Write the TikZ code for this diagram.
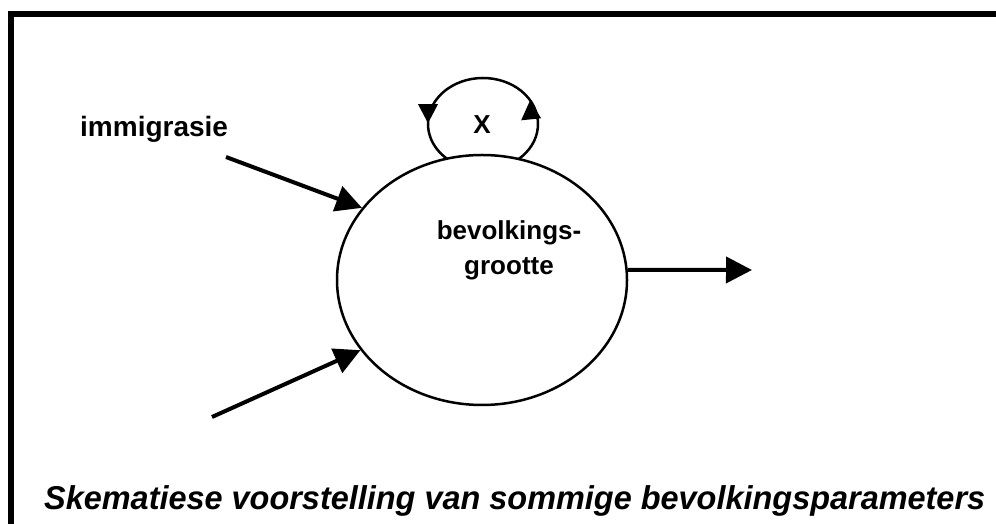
\documentclass[tikz,border=0pt]{standalone}
\usepackage{fontspec}
\usepackage{graphicx}
\setmainfont{Liberation Sans}
\usetikzlibrary{arrows.meta,shapes.geometric}
\begin{document}
\begin{tikzpicture}[x=1pt,y=1pt,
  frame/.style={line width=6pt},
  bigarrow/.style={line width=4pt,-{Triangle[length=26pt,width=26pt]}},
  popshape/.style={draw,line width=2.5pt,ellipse,minimum width=290pt,minimum height=250pt,inner sep=0pt},
  lbl/.style={font=\fontsize{26}{35}\selectfont\bfseries,inner sep=0pt},
  loopline/.style={line width=2.5pt},
  looptip/.style={fill=black}
]
\useasboundingbox (0,0) rectangle (996,524);
\fill[white] (0,0) rectangle (996,524);
\draw[frame] (11,0) -- (11,510) -- (996,510);
\node[popshape] (pop) at (482,244) {};
\node[lbl,align=center] (poptext) at (509,274) {bevolkings-\\grootte};
\node[lbl] (x) at (482,399) {X};
\coordinate (lc) at (483,400);
\path (lc) ++(-50:55 and 46) coordinate (ls);
\path (lc) ++(31:55 and 46) coordinate (rb);
\path (lc) ++(179:55 and 46) coordinate (lb);
\draw[loopline] (ls) arc[start angle=-50,end angle=230,x radius=55,y radius=46];
\fill[looptip] (rb) -- ++(-9,-20) -- ++(20,2) -- cycle;
\fill[looptip] (lb) -- ++(-10,19) -- ++(20,0) -- cycle;
\node[font=\fontsize{28}{34}\selectfont\bfseries,inner sep=0pt,anchor=base west] (imm) at (80,387) {immigrasie};
\coordinate (immstart) at (226,367);
\coordinate (lowstart) at (212,107);
\coordinate (outend) at (752,254);
\draw[bigarrow] (immstart) -- (pop.149.7);
\draw[bigarrow] (lowstart) -- (pop.210.3);
\draw[bigarrow] (pop.4) -- (outend);
\node[anchor=base west,inner sep=0pt] (cap) at (44,14) {\resizebox{941pt}{\height}{\fontsize{33}{38}\selectfont\bfseries\itshape Skematiese voorstelling van sommige bevolkingsparameters}};
\end{tikzpicture}
\end{document}
